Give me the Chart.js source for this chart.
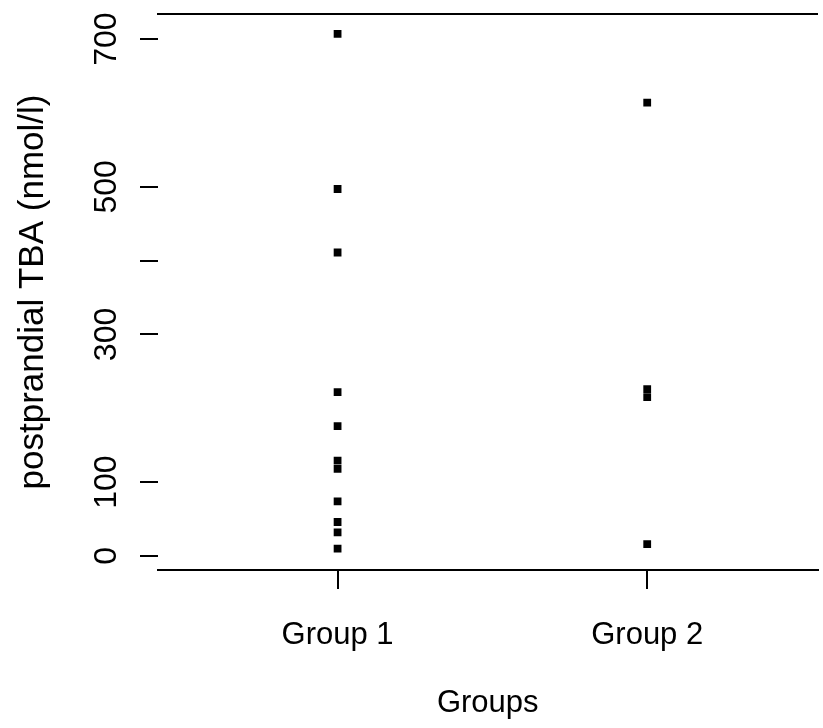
<!DOCTYPE html>
<html>
<head>
<meta charset="utf-8">
<script src="https://cdn.jsdelivr.net/npm/chart.js@4/dist/chart.umd.min.js"></script>
<style>
  html, body { margin: 0; padding: 0; background: #fff; }
  #wrap { width: 823px; height: 728px; }
</style>
</head>
<body>
<div id="wrap"><canvas id="chart" width="823" height="728"></canvas></div>
<script>
const categories = ['Group 1', 'Group 2'];
const group1Values = [707, 497, 411, 222, 176, 129, 118, 74, 46, 32, 10];
const group2Values = [614, 226, 215, 16];
const yTickValues = [0, 100, 300, 400, 500, 700];
const yTickLabels = ['0', '100', '300', '', '500', '700'];

const FONT = 'Liberation Sans, Arial, sans-serif';

function toPoints(values, groupIndex) {
  return values.map(v => ({ x: groupIndex + 1, y: v }));
}

// keep the plot box fixed, like the original R device layout
function fixBox(size, prop) {
  return s => {
    s[prop] = size;
    s.paddingTop = 0;
    s.paddingBottom = 0;
    s.paddingLeft = 0;
    s.paddingRight = 0;
  };
}

function renderChart() {
  const ctx = document.getElementById('chart');

  new Chart(ctx, {
    type: 'scatter',
    data: {
      datasets: [
        { data: toPoints(group1Values, 0) },
        { data: toPoints(group2Values, 1) }
      ]
    },
    options: {
      responsive: false,
      animation: false,
      layout: { padding: 0 },
      plugins: { legend: { display: false }, tooltip: { enabled: false } },
      elements: {
        point: {
          pointStyle: 'rect',
          radius: 5.5,
          backgroundColor: '#000',
          borderColor: '#000',
          borderWidth: 0
        }
      },
      scales: {
        x: {
          type: 'linear',
          position: 'bottom',
          min: 0.42,
          max: 2.55,
          afterBuildTicks: s => { s.ticks = categories.map((c, i) => ({ value: i + 1 })); },
          afterFit: fixBox(158, 'height'),
          ticks: {
            color: '#000',
            padding: 28,
            font: { family: FONT, size: 31 },
            callback: v => categories[v - 1] || ''
          },
          grid: { drawOnChartArea: false, drawTicks: true, tickLength: 19, color: '#000', lineWidth: 2 },
          border: { display: true, color: '#000', width: 2 },
          title: {
            display: true,
            text: 'Groups',
            color: '#000',
            font: { family: FONT, size: 31 },
            padding: { top: 0, bottom: 6 }
          }
        },
        x2: {
          type: 'linear',
          axis: 'x',
          position: 'top',
          min: 0.42,
          max: 2.55,
          afterFit: fixBox(14, 'height'),
          ticks: { display: false },
          grid: { display: false, drawTicks: false },
          border: { display: true, color: '#000', width: 2 }
        },
        y: {
          type: 'linear',
          min: -19,
          max: 734,
          afterBuildTicks: s => { s.ticks = yTickValues.map(v => ({ value: v })); },
          afterFit: fixBox(158, 'width'),
          ticks: {
            color: '#000',
            padding: 6,
            minRotation: 90,
            maxRotation: 90,
            crossAlign: 'center',
            font: { family: FONT, size: 32 },
            callback: v => yTickLabels[yTickValues.indexOf(v)]
          },
          grid: { drawOnChartArea: false, drawTicks: true, tickLength: 18, color: '#000', lineWidth: 2 },
          border: { display: false },
          title: {
            display: true,
            text: 'postprandial TBA (nmol/l)',
            color: '#000',
            font: { family: FONT, size: 35 },
            padding: { top: 12, bottom: 0 }
          }
        }
      }
    }
  });
}

window.addEventListener('DOMContentLoaded', renderChart);
</script>
</body>
</html>
